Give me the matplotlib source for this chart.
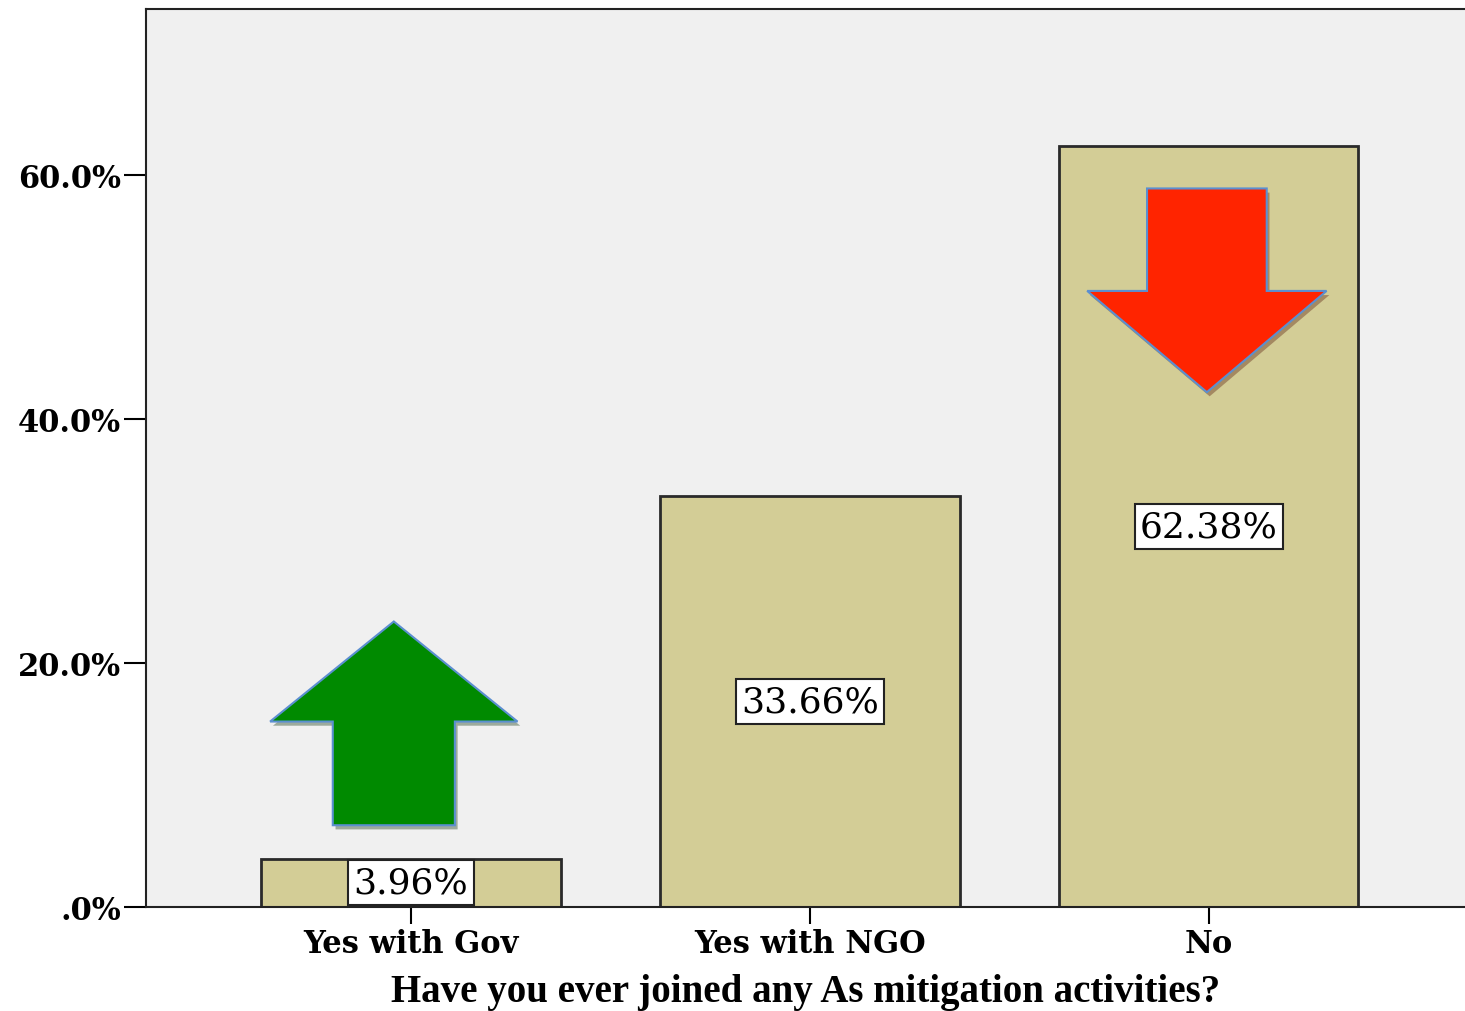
import matplotlib
matplotlib.use('Agg')
import matplotlib.pyplot as plt
from matplotlib.patches import Polygon
import matplotlib.patheffects as pe

# survey answers and share of respondents (%)
categories = ['Yes with Gov', 'Yes with NGO', 'No']
percent = [3.96, 33.66, 62.38]
yticks = [0, 20, 40, 60]
ytick_labels = ['.0%', '20.0%', '40.0%', '60.0%']

bar_color = '#d3cd96'
bg_color = '#f0f0f0'

fig = plt.figure(figsize=(14.65, 10.12), dpi=100)
ax = fig.add_axes([0.0997, 0.1028, 0.9003, 0.8872])
ax.set_facecolor(bg_color)

x = range(len(categories))
ax.bar(x, percent, width=0.75, color=bar_color, edgecolor='#2a2a2a', linewidth=2, zorder=2)

# value labels in white boxes, halfway up each bar
for i, v in enumerate(percent):
    ax.text(i, v / 2, '%.2f%%' % v, ha='center', va='center', fontsize=26,
            family='DejaVu Serif', zorder=4, clip_on=False,
            bbox=dict(boxstyle='square,pad=0.15', facecolor='white', edgecolor='#222222', linewidth=1.5))

# block arrows: up over "Yes with Gov", down over "No"
shadow = [pe.SimplePatchShadow(offset=(2, -3), alpha=0.35), pe.Normal()]

def block_arrow(xc, base, neck, tip, shaft_hw, head_hw, color):
    pts = [(xc - shaft_hw, base), (xc + shaft_hw, base), (xc + shaft_hw, neck),
           (xc + head_hw, neck), (xc, tip), (xc - head_hw, neck), (xc - shaft_hw, neck)]
    p = Polygon(pts, closed=True, facecolor=color, edgecolor='#5b8fd0', linewidth=1.5, zorder=3)
    p.set_path_effects(shadow)
    ax.add_patch(p)

block_arrow(-0.043, 6.7, 15.2, 23.4, 0.153, 0.31, '#008a00')
block_arrow(1.995, 58.9, 50.5, 42.2, 0.15, 0.30, '#ff2400')

ax.set_xlim(-0.664, 2.642)
ax.set_ylim(0, 73.6)
ax.set_xticks(list(x))
ax.set_xticklabels(categories, family='DejaVu Serif', fontweight='bold', fontsize=22)
ax.set_yticks(yticks)
ax.set_yticklabels(ytick_labels, family='DejaVu Serif', fontweight='bold', fontsize=22)
ax.tick_params(axis='y', length=16, width=1.5, pad=2)
ax.tick_params(axis='x', length=12, width=1.5, pad=3)

for side in ['left', 'bottom', 'top']:
    ax.spines[side].set_linewidth(1.5)
    ax.spines[side].set_color('#222222')
ax.spines['right'].set_visible(False)

ax.set_xlabel('Have you ever joined any As mitigation activities?', family='Liberation Serif',
              fontweight='bold', fontsize=28, labelpad=10)

fig.savefig('out.png', dpi=100, facecolor='white')
